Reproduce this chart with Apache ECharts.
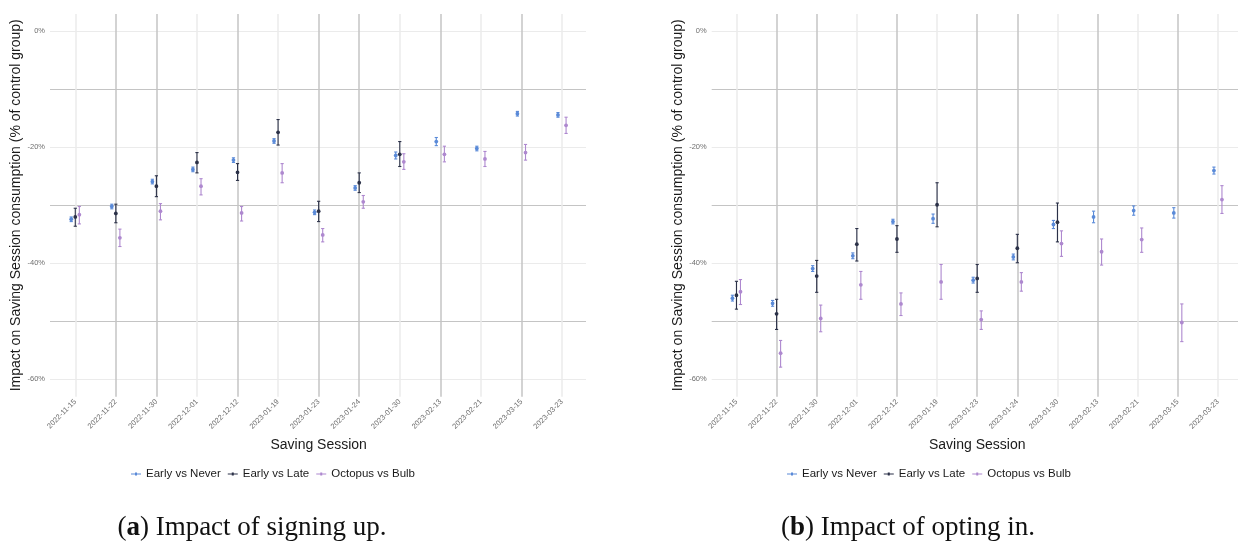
<!DOCTYPE html>
<html>
<head>
<meta charset="utf-8">
<title>Saving Session impact</title>
<script src="https://cdn.jsdelivr.net/npm/echarts@6/dist/echarts.min.js"></script>
<style>
  html, body { margin: 0; padding: 0; background: #ffffff; }
  #chart { width: 1238px; height: 544px; }
</style>
</head>
<body>
<div id="chart"></div>
<script>
// Saving Session dates (x categories)
const sessions = ['2022-11-15', '2022-11-22', '2022-11-30', '2022-12-01', '2022-12-12', '2023-01-19',
  '2023-01-23', '2023-01-24', '2023-01-30', '2023-02-13', '2023-02-21', '2023-03-15', '2023-03-23'];
const comparisonNames = ['Early vs Never', 'Early vs Late', 'Octopus vs Bulb'];
const yTicks = [0, -20, -40, -60];

// (a) Impact of signing up — estimate, lower and upper bound (% of control group)
const signupNeverEst = [-32.4, -30.2, -25.9, -23.8, -22.2, -18.9, -31.2, -27.0, -21.4, -19.0, -20.2, -14.2, -14.4];
const signupNeverLow = [-32.8, -30.6, -26.3, -24.2, -22.6, -19.3, -31.6, -27.4, -22.0, -19.7, -20.6, -14.6, -14.8];
const signupNeverHigh = [-32.0, -29.8, -25.5, -23.4, -21.8, -18.5, -30.8, -26.6, -20.8, -18.3, -19.8, -13.8, -14.0];

const signupLateEst = [-32.0, -31.4, -26.7, -22.6, -24.3, -17.4, -31.0, -26.1, -21.2, null, null, null, null];
const signupLateLow = [-33.6, -33.0, -28.5, -24.4, -25.7, -19.6, -32.8, -27.8, -23.3, null, null, null, null];
const signupLateHigh = [-30.5, -29.8, -24.9, -20.9, -22.8, -15.2, -29.3, -24.4, -19.0, null, null, null, null];

const signupBulbEst = [-31.6, -35.6, -31.0, -26.7, -31.3, -24.4, -35.1, -29.4, -22.5, -21.2, -22.0, -20.9, -16.2];
const signupBulbLow = [-33.2, -37.1, -32.5, -28.2, -32.7, -26.1, -36.3, -30.5, -23.8, -22.5, -23.3, -22.2, -17.6];
const signupBulbHigh = [-30.2, -34.1, -29.7, -25.4, -30.2, -22.8, -34.0, -28.3, -21.1, -19.8, -20.7, -19.5, -14.8];

// (b) Impact of opting in
const optinNeverEst = [-46.0, -46.9, -40.9, -38.7, -32.8, -32.3, -42.9, -38.9, -33.3, -32.0, -30.9, -31.3, -24.0];
const optinNeverLow = [-46.5, -47.4, -41.4, -39.2, -33.2, -33.1, -43.4, -39.4, -34.0, -33.0, -31.7, -32.2, -24.6];
const optinNeverHigh = [-45.5, -46.4, -40.4, -38.2, -32.4, -31.5, -42.4, -38.4, -32.6, -31.0, -30.1, -30.4, -23.4];

const optinLateEst = [-45.5, -48.7, -42.2, -36.7, -35.8, -29.9, -42.6, -37.4, -32.9, null, null, null, null];
const optinLateLow = [-47.9, -51.4, -45.0, -39.6, -38.1, -33.7, -45.0, -39.9, -36.3, null, null, null, null];
const optinLateHigh = [-43.1, -46.2, -39.5, -34.0, -33.5, -26.1, -40.2, -35.0, -29.6, null, null, null, null];

const optinBulbEst = [-44.9, -55.5, -49.5, -43.7, -47.0, -43.2, -49.7, -43.2, -36.6, -38.0, -35.9, -50.2, -29.0];
const optinBulbLow = [-47.1, -57.9, -51.8, -46.2, -49.0, -46.2, -51.4, -44.8, -38.8, -40.3, -38.1, -53.5, -31.4];
const optinBulbHigh = [-42.8, -53.3, -47.2, -41.4, -45.1, -40.2, -48.2, -41.6, -34.4, -35.8, -33.9, -47.0, -26.6];

const seriesColors = ['#5a8ad8', '#2b3148', '#ae88cf'];
const dodges = [-0.1, 0, 0.1];
const FONT = '"Liberation Sans", Arial, sans-serif';

function rows(est, low, high) {
  const out = [];
  est.forEach((v, i) => {
    if (v !== null) out.push([i, v, low[i], high[i]]);
  });
  return out;
}

// point + error bar, dodged sideways by a fraction of the category band
function errorBar(dodge) {
  return function (params, api) {
    const i = api.value(0);
    const band = api.size([1, 0])[0];
    const mid = api.coord([i, api.value(1)]);
    const lo = api.coord([i, api.value(2)]);
    const hi = api.coord([i, api.value(3)]);
    const x = mid[0] + band * dodge;
    const color = api.visual('color');
    const cap = 1.6;
    const stroke = { stroke: color, lineWidth: 1.1 };
    return {
      type: 'group',
      children: [
        { type: 'line', shape: { x1: x, y1: hi[1], x2: x, y2: lo[1] }, style: stroke },
        { type: 'line', shape: { x1: x - cap, y1: hi[1], x2: x + cap, y2: hi[1] }, style: stroke },
        { type: 'line', shape: { x1: x - cap, y1: lo[1], x2: x + cap, y2: lo[1] }, style: stroke },
        { type: 'circle', shape: { cx: x, cy: mid[1], r: 1.9 }, style: { fill: color } }
      ]
    };
  };
}

const light = '#ebebeb', dark = '#c4c4c4';
const verticalGridColors = [light, dark, dark, light, dark, light, dark, dark, light, dark, light, dark, light];

// each panel: a grid carrying the y scale/horizontal grid, and a data grid carrying the sessions
const panels = [
  { yLeft: 50, yWidth: 536, dLeft: 55.0, dWidth: 527.3, legendLeft: 126,
    data: [rows(signupNeverEst, signupNeverLow, signupNeverHigh),
           rows(signupLateEst, signupLateLow, signupLateHigh),
           rows(signupBulbEst, signupBulbLow, signupBulbHigh)] },
  { yLeft: 711.7, yWidth: 536, dLeft: 716.4, dWidth: 527.5, legendLeft: 782,
    data: [rows(optinNeverEst, optinNeverLow, optinNeverHigh),
           rows(optinLateEst, optinLateLow, optinLateHigh),
           rows(optinBulbEst, optinBulbLow, optinBulbHigh)] }
];

const grid = [], xAxis = [], yAxis = [], series = [], legend = [];

panels.forEach((p, k) => {
  const gScale = grid.length;
  grid.push({ left: p.yLeft, top: 31.3, width: p.yWidth, height: 348, containLabel: false });
  const gData = grid.length;
  grid.push({ left: p.dLeft, top: 14, width: p.dWidth, height: 382.7, containLabel: false });

  xAxis.push({ gridIndex: gScale, type: 'value', show: false });
  yAxis.push({
    gridIndex: gScale, type: 'value', min: -60, max: 0, interval: 10,
    name: 'Impact on Saving Session consumption (% of control group)',
    nameLocation: 'middle', nameGap: 24,
    nameTextStyle: { fontFamily: FONT, fontSize: 14, color: '#1a1a1a' },
    axisLine: { show: false }, axisTick: { show: false },
    axisLabel: {
      fontFamily: FONT, fontSize: 7.5, color: '#6e6e6e', margin: 5,
      formatter: v => (yTicks.indexOf(v) >= 0 ? v + '%' : '')
    },
    splitLine: { show: true, lineStyle: { color: [light, dark], width: 1.1 } }
  });

  xAxis.push({
    gridIndex: gData, type: 'category', data: sessions, boundaryGap: true,
    name: 'Saving Session', nameLocation: 'middle', nameGap: 33,
    nameTextStyle: { fontFamily: FONT, fontSize: 14, color: '#1a1a1a' },
    axisLine: { show: false }, axisTick: { show: false },
    axisLabel: { interval: 0, rotate: 45, fontFamily: FONT, fontSize: 7.5, color: '#6e6e6e', margin: 4 },
    splitLine: { show: true, interval: 0, alignWithLabel: true,
                 lineStyle: { color: verticalGridColors, width: 1.5 } }
  });
  yAxis.push({ gridIndex: gData, type: 'value', min: -63, max: 3, show: false });

  comparisonNames.forEach((name, s) => {
    series.push({
      type: 'custom', name: name,
      xAxisIndex: k * 2 + 1, yAxisIndex: k * 2 + 1,
      itemStyle: { color: seriesColors[s] },
      encode: { x: 0, y: [1, 2, 3] },
      renderItem: errorBar(dodges[s]),
      data: p.data[s],
      z: 5
    });
  });

  legend.push({
    left: p.legendLeft, top: 463, orient: 'horizontal',
    itemWidth: 10, itemHeight: 4, itemGap: 7,
    textStyle: { fontFamily: FONT, fontSize: 11.5, color: '#1a1a1a' },
    data: comparisonNames.map(n => ({
      name: n, icon: 'path://M0,1.5H10V2.5H0Z M4,0.5H6V3.5H4Z'
    }))
  });
});

const captionStyle = {
  fontFamily: '"Liberation Serif", "DejaVu Serif", serif', fontSize: 27, fill: '#111111',
  rich: { b: { fontFamily: '"Liberation Serif", serif', fontSize: 27, fontWeight: 'bold' } }
};

const chart = echarts.init(document.getElementById('chart'), null, { renderer: 'canvas' });
chart.setOption({
  backgroundColor: '#ffffff',
  animation: false,
  grid, xAxis, yAxis, series, legend,
  graphic: [
    { type: 'text', x: 252, y: 528,
      style: Object.assign({ text: '({b|a}) Impact of signing up.', align: 'center', verticalAlign: 'middle' }, captionStyle) },
    { type: 'text', x: 908, y: 528,
      style: Object.assign({ text: '({b|b}) Impact of opting in.', align: 'center', verticalAlign: 'middle' }, captionStyle) }
  ]
});
</script>
</body>
</html>
